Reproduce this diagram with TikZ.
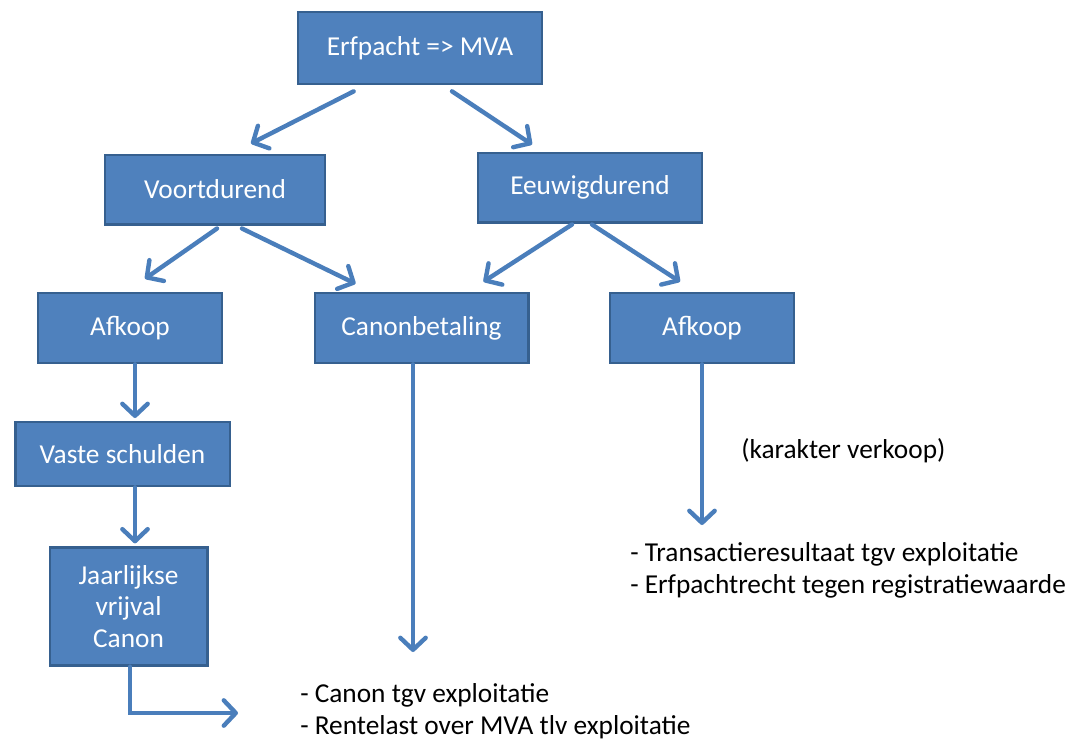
\documentclass[tikz,border=0pt]{standalone}
\usepackage{fontspec}
\setmainfont{Carlito}
\usepackage{tikz}
\usetikzlibrary{arrows.meta,positioning}
\definecolor{boxfill}{HTML}{4F81BD}
\definecolor{boxline}{HTML}{36608F}
\definecolor{arrowblue}{HTML}{4A7EBB}

\begin{document}
\begin{tikzpicture}[x=0.75pt, y=-0.75pt,
  box/.style={draw=boxline, line width=2pt, fill=boxfill, text=white, align=center,
    font=\fontsize{20.5}{23.5}\selectfont, inner sep=2pt},
  flow/.style={draw=arrowblue, line width=3.3pt, line cap=round,
    -{Straight Barb[length=9pt, width=19pt, round]}},
  note/.style={align=left, inner sep=0pt, font=\fontsize{20.5}{24}\selectfont}]
  \fill[white] (0,0) rectangle (1073,744);
  \useasboundingbox (0,0) rectangle (1073,744);

  \node[box, minimum width=183pt, minimum height=54pt] (erf) at (420,48) {Erfpacht => MVA};
  \node[box, minimum width=165pt, minimum height=52pt] (voort) at (215,189.5) {Voortdurend};
  \node[box, minimum width=168pt, minimum height=52pt] (eeuw) at (590,187.5) {Eeuwigdurend};
  \node[box, minimum width=138pt, minimum height=52.5pt] (afkL) at (130,328) {Afkoop};
  \node[box, minimum width=160pt, minimum height=52.5pt] (canon) at (421.5,328) {Canonbetaling};
  \node[box, minimum width=138pt, minimum height=52.5pt] (afkR) at (702,328) {Afkoop};
  \node[box, minimum width=161pt, minimum height=48pt] (vaste) at (122.5,454) {Vaste schulden};
  \node[box, minimum width=118pt, minimum height=88.5pt, below=44pt of vaste, xshift=4.5pt] (jaar) {Jaarlijkse\\vrijval\\Canon};

  \node[note, anchor=west] (karakter) at (741,451) {(karakter verkoop)};
  \node[note, anchor=west] (verkoop) at (630,570) {- Transactieresultaat tgv exploitatie\\- Erfpachtrecht tegen registratiewaarde};
  \node[note, anchor=west] (exploit) at (300,711) {- Canon tgv exploitatie\\- Rentelast over MVA tlv exploitatie};

  \coordinate (canonEnd) at (413,652);
  \coordinate (afkEnd) at (702,525);
  \coordinate (jaarEnd) at (238,713);

  \draw[flow] ([shift={(57,6)}]erf.south west) -- ([shift={(36,-10)}]voort.north);
  \draw[flow] ([shift={(32,6)}]erf.south) -- ([shift={(-58,-7)}]eeuw.north);
  \draw[flow] ([shift={(2,3)}]voort.south) -- ([shift={(15,-13)}]afkL.north);
  \draw[flow] ([shift={(27,3)}]voort.south) -- ([shift={(42,-8)}]canon.north west);
  \draw[flow] ([shift={(-18,1)}]eeuw.south) -- ([shift={(-46,-10)}]canon.north east);
  \draw[flow] ([shift={(2,1)}]eeuw.south) -- ([shift={(-22,-10)}]afkR.north);
  \draw[flow, shorten >=2pt] ([shift={(5,0)}]afkL.south) -- ([shift={(12.5,0)}]vaste.north);
  \draw[flow, shorten >=2pt] ([shift={(12.5,0)}]vaste.south) -- ([shift={(6.5,0)}]jaar.north);
  \draw[flow] ([shift={(1.5,0)}]jaar.south) |- (jaarEnd);
  \draw[flow] (canon.south -| canonEnd) -- (canonEnd);
  \draw[flow] (afkR.south) -- (afkEnd);
\end{tikzpicture}
\end{document}
